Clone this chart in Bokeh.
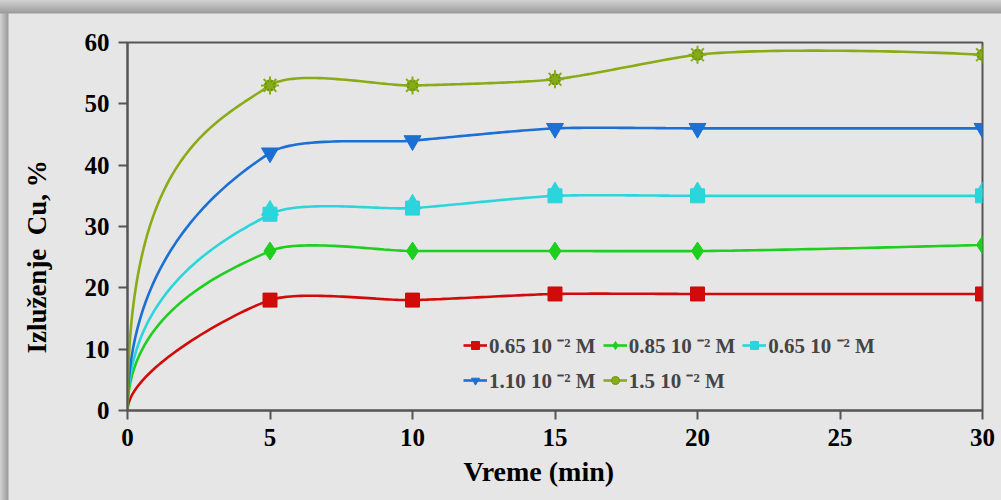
import numpy as np
from bokeh.plotting import figure
from bokeh.models import Range1d, FixedTicker, Legend, LegendItem, Title
from bokeh.embed import file_html
from bokeh.resources import INLINE

# ---------------- data ----------------
time_min = [0, 5, 10, 15, 20, 30]
cu_065a = [0, 18, 18, 19, 19, 19]
cu_085 = [0, 26, 26, 26, 26, 27]
cu_065b = [0, 32, 33, 35, 35, 35]
cu_110 = [0, 42, 44, 46, 46, 46]
cu_150 = [0, 53, 53, 54, 58, 58]
series_labels = ["0.65 10 \u207b\u00b2 M", "0.85 10 \u207b\u00b2 M", "0.65 10 \u207b\u00b2 M",
                 "1.10 10 \u207b\u00b2 M", "1.5 10 \u207b\u00b2 M"]
x_ticks = [0, 5, 10, 15, 20, 25, 30]
y_ticks = [0, 10, 20, 30, 40, 50, 60]
x_title = "Vreme (min)"
y_title = "Izlu\u017eenje\u00a0 Cu, %"

# ---------------- styles ----------------
colors = ["#d10a0a", "#1ecf1e", "#2ad5db", "#1d70d3", "#8aab16"]
start_rise = [0.36, 0.62, 0.62, 0.58, 0.76]   # curve shape near origin
FONT = "Liberation Serif"
X0, X1, Y0, Y1 = 0, 30, 0, 60
FW, FH = 855, 368
SX = FW / (X1 - X0)
SY = FH / (Y1 - Y0)


def smooth(xs, ys, rise, beta=0.22, n=40):
    P = np.column_stack([(np.asarray(xs, float) - X0) * SX, (np.asarray(ys, float) - Y0) * SY])
    k = len(P)
    d = np.diff(P, axis=0)
    chord = np.hypot(d[:, 0], d[:, 1])
    sl = d[:, 1] / d[:, 0]
    m = np.zeros(k)
    for i in range(1, k - 1):
        m[i] = (chord[i] * sl[i - 1] + chord[i - 1] * sl[i]) / (chord[i - 1] + chord[i])
    m[-1] = (3 * sl[-1] - m[-2]) / 2
    out = []
    t = np.linspace(0, 1, n)[:, None]
    for i in range(k - 1):
        p0, p3 = P[i], P[i + 1]
        u1 = np.array([1.0, m[i]]) / np.hypot(1, m[i])
        u2 = np.array([1.0, m[i + 1]]) / np.hypot(1, m[i + 1])
        L = beta * chord[i]
        if i == 0:
            c1 = p0 + np.array([0.0, rise * (p3[1] - p0[1])])
        else:
            c1 = p0 + L * u1
        c2 = p3 - L * u2
        seg = (1 - t) ** 3 * p0 + 3 * (1 - t) ** 2 * t * c1 + 3 * (1 - t) * t ** 2 * c2 + t ** 3 * p3
        out.append(seg if i == 0 else seg[1:])
    B = np.vstack(out)
    return B[:, 0] / SX + X0, B[:, 1] / SY + Y0


p = figure(width=1001, height=500, output_backend="svg", toolbar_location=None,
           x_range=Range1d(X0, X1), y_range=Range1d(Y0, Y1),
           min_border_left=127, min_border_right=19, min_border_top=42, min_border_bottom=90)
p.border_fill_color = None
p.background_fill_color = None
p.styles = {"background": "linear-gradient(to bottom, #d2d2d2 0px, #9c9c9c 13px, rgba(0,0,0,0) 14px), "
                          "linear-gradient(to right, #d2d2d2 0px, #9c9c9c 8px, rgba(0,0,0,0) 9px), #e6e6e6"}
p.grid.visible = False
p.outline_line_color = "#555555"
p.outline_line_width = 2

for ax in (p.xaxis, p.yaxis):
    ax.axis_line_color = "#555555"
    ax.axis_line_width = 2
    ax.major_tick_line_color = "#555555"
    ax.major_tick_line_width = 2
    ax.major_tick_in = 0
    ax.major_tick_out = 9
    ax.minor_tick_line_color = None
    ax.major_label_text_font = FONT
    ax.major_label_text_font_style = "bold"
    ax.major_label_text_font_size = "25px"
    ax.major_label_text_color = "black"
p.xaxis.ticker = FixedTicker(ticks=x_ticks)
p.yaxis.ticker = FixedTicker(ticks=y_ticks)
p.xaxis.major_label_standoff = 9
p.yaxis.major_label_standoff = 9

# y title (non-breaking spaces at the end push the visible text slightly down)
p.yaxis.axis_label = y_title + "\u00a0" * 9
p.yaxis.axis_label_text_font = FONT
p.yaxis.axis_label_text_font_size = "27px"
p.yaxis.axis_label_text_font_style = "bold"
p.yaxis.axis_label_text_color = "black"
p.yaxis.axis_label_standoff = 30

series = [cu_065a, cu_085, cu_065b, cu_110, cu_150]
items = []
tri_off = 4.0 / SY
for idx, (ys, col, rise, lab) in enumerate(zip(series, colors, start_rise, series_labels)):
    cx, cy = smooth(time_min, ys, rise)
    rl = p.line(cx, cy, line_color=col, line_width=2.6)
    mx, my = time_min[1:], ys[1:]
    rs = [rl]
    if idx == 0:
        rs.append(p.scatter(mx, my, marker="square", size=14, fill_color=col, line_color=col))
    elif idx == 1:
        rs.append(p.scatter(mx, my, marker="diamond", size=18, fill_color=col, line_color=col))
    elif idx == 2:
        rs.append(p.scatter(mx, my, marker="square", size=14, fill_color=col, line_color=col))
        rs.append(p.scatter(mx, [v + tri_off for v in my], marker="triangle", size=17,
                            fill_color=col, line_color=col))
    elif idx == 3:
        rs.append(p.scatter(mx, my, marker="inverted_triangle", size=17, fill_color=col, line_color=col))
    else:
        rs.append(p.scatter(mx, my, marker="circle", size=11, fill_color="#5f9412", line_color="#5f9412"))
        rs.append(p.scatter(mx, my, marker="asterisk", size=18, line_color=col, line_width=2))
    items.append(LegendItem(label=lab, renderers=rs))

legend = Legend(items=items, location=(336, 16), orientation="horizontal", ncols=3)
legend.label_text_font = FONT
legend.label_text_font_style = "bold"
legend.label_text_font_size = "21px"
legend.label_standoff = 2
legend.glyph_width = 24
legend.glyph_height = 20
legend.label_height = 20
legend.spacing = 7
legend.padding = 0
legend.margin = 0
legend.border_line_color = None
legend.background_fill_alpha = 0
p.add_layout(legend)

ttl_x = Title(text=x_title, align="left", offset=336, text_font=FONT,
              text_font_size="28px", text_font_style="bold", text_color="black", standoff=10)
p.add_layout(ttl_x, "below")

open("out.html", "w").write(file_html(p, INLINE))
